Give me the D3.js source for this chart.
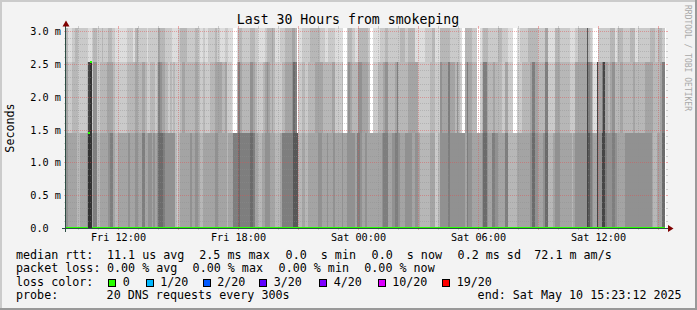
<!DOCTYPE html>
<html>
<head>
<meta charset="utf-8">
<script src="https://cdn.jsdelivr.net/npm/d3@7"></script>
<style>
  body { margin: 0; background: #f3f3f3; }
  svg text { font-family: 'DejaVu Sans Mono', monospace; fill: #000; }
</style>
</head>
<body>
<script>
// Smokeping data: 20 DNS pings every 300s, 360 steps.
const pingCount = 20;
const stepSeconds = 300;
const firstStep = Date.UTC(2025, 4, 9, 9, 20, 0);
const graphStart = new Date(Date.UTC(2025, 4, 9, 9, 23, 12));
const graphEnd = new Date(Date.UTC(2025, 4, 10, 15, 23, 12));

// rtt levels the pings fall on (seconds), lowest first.
const rttLevels = [1.45e-3, 2.53e-3, 3.05e-3];

// Number of pings at or above rttLevels[2] per step.
const topCount = [
  3,3,1,1,2,2, 3,3,2,2,2,2, 2,2,1,1,2,3, 3,2,2,2,3,2, 2,2,3,3,2,2,
  1,1,1,1,1,1, 1,2,2,2,2,1, 3,4,2,2,2,2, 2,1,2,2,2,2, 2,2,4,3,3,3,
  2,2,2,2,1,1, 1,1,2,3,3,3, 3,2,2,2,2,2, 3,3,2,1,1,2, 1,1,2,2,2,2,
  3,2,2,1,1,1, 2,2,1,1,1,0, 0,1,3,3,2,2, 2,2,2,3,3,3, 2,2,1,1,1,1,
  2,3,3,3,4,3, 1,1,1,2,2,2, 3,3,3,3,4,4, 3,0,1,1,2,2, 2,2,2,3,3,3,
  3,3,3,2,2,2, 1,1,2,2,2,2, 1,1,1,1,1,0, 0,2,3,3,2,2, 1,1,3,3,3,3,
  3,3,2,0,0,1, 1,1,1,2,2,2, 3,3,2,2,2,2, 2,2,2,3,3,3, 2,2,3,3,3,3,
  1,1,1,1,1,1, 2,2,2,2,3,3, 1,1,1,3,3,3, 3,3,3,2,2,2, 2,2,2,1,0,0,
  3,3,3,3,2,2, 2,0,0,1,2,3, 3,3,2,2,2,2, 2,2,3,3,2,2, 2,2,1,1,1,0,
  0,1,1,2,2,2, 2,2,3,3,3,3, 3,3,2,2,2,2, 4,4,1,1,1,1, 3,3,3,2,2,2,
  2,2,2,1,1,1, 2,2,3,3,3,3, 3,8,3,2,1,0, 0,0,2,2,2,2, 2,2,2,3,3,3,
  1,2,3,3,3,2, 2,2,2,3,3,3, 1,1,2,2,2,2, 2,2,2,3,3,3, 2,2,3,3,2,2
];

// Number of pings at or above rttLevels[1] per step.
const midCount = [
  4,4,2,2,3,3, 3,3,2,2,2,2, 2,3,9,10,2,5, 5,2,2,3,3,3, 3,4,4,4,4,3,
  2,2,2,2,2,2, 2,3,3,3,3,3, 4,4,3,3,4,4, 3,2,2,3,3,3, 2,3,6,5,4,4,
  3,3,2,3,2,3, 2,2,2,3,4,4, 3,3,3,3,3,3, 4,4,3,2,2,3, 2,2,2,3,3,3,
  4,4,4,4,3,3, 4,2,2,2,1,0, 0,3,6,4,3,3, 3,3,3,5,5,4, 3,2,2,2,2,3,
  4,5,4,3,4,3, 2,2,2,2,3,3, 4,4,4,4,5,7, 6,0,2,2,3,3, 2,2,3,3,3,3,
  4,4,4,4,4,3, 3,3,3,3,4,4, 2,2,2,2,3,0, 0,3,5,4,3,3, 3,3,5,5,4,4,
  4,4,3,0,0,2, 2,2,3,3,3,4, 5,5,3,3,3,3, 4,6,3,3,3,3, 3,3,4,4,4,4,
  4,4,2,2,2,2, 2,2,2,3,3,3, 2,2,2,5,4,4, 4,4,6,4,4,4, 3,5,3,2,0,0,
  4,6,4,4,3,3, 3,0,0,2,3,6, 6,4,3,3,3,4, 3,3,3,3,2,2, 4,4,2,2,2,0,
  0,2,2,2,3,3, 3,3,3,4,6,6, 4,4,3,3,3,3, 6,6,2,2,2,2, 4,4,4,3,3,3,
  3,3,3,2,2,2, 4,4,4,4,4,4, 4,9,6,5,3,1, 1,9,4,4,6,9, 4,4,3,4,5,5,
  3,3,3,4,4,3, 3,3,3,3,3,4, 3,3,3,3,3,3, 4,4,4,4,4,3, 3,3,3,4,6,6
];

// Number of pings at or above rttLevels[0] per step (the rest answered in 0 s).
const lowCount = [
  5,5,4,4,4,4, 4,3,3,4,4,4, 4,5,10,10,4,6, 6,3,3,4,4,4, 4,4,5,6,6,4,
  3,3,4,4,4,4, 4,4,5,4,4,4, 5,5,4,4,6,6, 4,4,5,5,4,5, 4,5,7,7,7,6,
  5,5,5,5,5,5, 3,2,3,4,4,4, 4,4,4,5,4,4, 5,5,4,3,3,4, 4,4,4,4,4,4,
  5,5,4,4,4,4, 4,3,4,4,4,6, 6,6,7,6,6,6, 6,6,6,7,7,6, 4,4,3,3,4,4,
  5,5,5,4,4,4, 3,3,3,4,6,6, 6,6,6,6,6,8, 8,8,3,3,4,4, 3,3,4,4,4,4,
  4,4,5,5,4,4, 4,5,4,4,4,5, 4,4,4,4,5,4, 4,5,5,5,5,5, 4,6,6,5,4,4,
  5,4,4,4,4,4, 4,4,4,4,5,6, 6,6,4,4,5,5, 6,6,5,4,4,4, 5,5,5,5,4,4,
  5,5,4,3,3,3, 3,3,3,4,4,4, 2,2,3,5,5,5, 5,5,6,5,5,5, 5,5,5,5,5,5,
  4,6,5,5,4,4, 4,4,4,4,5,7, 7,5,4,4,6,6, 5,5,4,4,4,4, 6,6,3,3,3,3,
  3,4,4,4,4,4, 4,4,4,5,7,7, 5,5,4,4,4,5, 7,7,3,3,3,4, 5,5,5,4,4,4,
  4,4,4,4,3,4, 5,5,5,5,5,5, 5,9,8,6,5,4, 4,9,5,5,9,9, 6,5,5,5,6,6,
  5,4,4,4,4,4, 5,5,5,5,5,5, 5,5,5,5,5,5, 5,5,5,5,4,3, 3,4,4,4,7,7
];

// Axis ticks (seconds).
const yMajorTicks = [0, 0.5e-3, 1.0e-3, 1.5e-3, 2.0e-3, 2.5e-3, 3.0e-3];
const yMinorStep = 0.1e-3;

// Legend.
const lossLabels = ['0', '1/20', '2/20', '3/20', '4/20', '10/20', '19/20'];
const lossColors = ['#26ff00', '#00b8ff', '#0059ff', '#5e00ff', '#7e00ff', '#dd00ff', '#ff0000'];
const lossBoxX = [108.5, 146, 203, 259.5, 319.5, 378, 442.5];
const rttLegend = ['median rtt:', '11.1 us avg', '2.5 ms max', '0.0  s min', '0.0  s now', '0.2 ms sd', '72.1 m am/s'];
const rttLegendX = [16, 107, 199.3, 285.6, 371.6, 457.6, 534.3];
const lossLegend = ['packet loss:', '0.00 % avg', '0.00 % max', '0.00 % min', '0.00 % now'];
const lossLegendX = [16, 107, 192.6, 278.6, 364.3];
const probeLegend = ['probe:', '20 DNS requests every 300s', 'end: Sat May 10 15:23:12 2025'];
const probeLegendX = [16, 106.6, 477.6];

// Canvas constants.
const W = 697, H = 310;
const X0 = 66, X1 = 666, Y0 = 228, Ytop = 28;

const svg = d3.select('body')
  .append('svg')
  .attr('width', W)
  .attr('height', H);

// Background and 3d frame.
svg.append('rect').attr('width', W).attr('height', H).attr('fill', '#f3f3f3');
svg.append('rect').attr('width', W).attr('height', 2).attr('fill', '#cbcbcb');
svg.append('rect').attr('width', 2).attr('height', H).attr('fill', '#cbcbcb');
svg.append('rect').attr('y', H - 2).attr('width', W).attr('height', 2).attr('fill', '#999');
svg.append('rect').attr('x', W - 2).attr('width', 2).attr('height', H).attr('fill', '#999');

// Plot canvas.
svg.append('rect')
  .attr('x', X0).attr('y', Ytop)
  .attr('width', X1 - X0).attr('height', Y0 - Ytop)
  .attr('fill', '#fff');

svg.append('clipPath').attr('id', 'plot')
  .append('rect')
  .attr('x', X0).attr('y', Ytop)
  .attr('width', X1 - X0).attr('height', Y0 - Ytop);

// Scales.
const x = d3.scaleUtc().domain([graphStart, graphEnd]).range([X0, X1]);
const y = d3.scaleLinear().domain([0, 3.0e-3]).range([Y0, 31]);

// Build sorted pings per step.
const steps = topCount.map((t, i) => {
  const pings = [];
  const zeros = pingCount - lowCount[i];
  for (let k = 0; k < zeros; k++) pings.push(0);
  for (let k = 0; k < lowCount[i] - midCount[i]; k++) pings.push(rttLevels[0]);
  for (let k = 0; k < midCount[i] - t; k++) pings.push(rttLevels[1]);
  for (let k = 0; k < t; k++) pings.push(rttLevels[2]);
  return { time: new Date(firstStep + i * stepSeconds * 1000), pings, median: pings[pingCount / 2] };
});
// closing point for the step curve
const last = steps[steps.length - 1];
steps.push({ time: new Date(last.time.getTime() + stepSeconds * 1000), pings: last.pings, median: last.median });

const plot = svg.append('g').attr('clip-path', 'url(#plot)');

// Smoke: layer i spans ping i to ping n+1-i, inner layers darker.
const half = pingCount / 2;
for (let ibot = 1; ibot <= half; ibot++) {
  const itop = pingCount + 1 - ibot;
  const c = Math.floor(190 / half * (half - ibot)) + 50;
  const area = d3.area()
    .x(d => x(d.time))
    .y0(d => y(d.pings[ibot - 1]))
    .y1(d => y(d.pings[itop - 1]))
    .curve(d3.curveStepAfter);
  plot.append('path')
    .datum(steps)
    .attr('d', area)
    .attr('fill', d3.rgb(c, c, c))
    .attr('shape-rendering', 'crispEdges');
}

// Median, coloured by loss (all 0 here).
const medianArea = d3.area()
  .x(d => x(d.time))
  .y0(d => y(d.median) + 1)
  .y1(d => y(d.median) - 1)
  .curve(d3.curveStepAfter);
plot.append('path')
  .datum(steps)
  .attr('d', medianArea)
  .attr('fill', lossColors[0])
  .attr('shape-rendering', 'crispEdges');

// Grid.
const gridCol = 'rgba(143,143,143,0.38)';
const mgridCol = 'rgba(224,80,80,0.45)';
const grid = svg.append('g').attr('shape-rendering', 'crispEdges');

// horizontal
const yMinor = d3.range(0, 3.0e-3 + 1e-9, yMinorStep).filter(v => v > 0);
yMinor.forEach(v => {
  const isMajor = yMajorTicks.some(m => Math.abs(m - v) < 1e-9);
  const yy = Math.round(y(v)) + 0.5;
  const col = isMajor ? mgridCol : gridCol;
  grid.append('line').attr('x1', X0).attr('x2', X1).attr('y1', yy).attr('y2', yy)
    .attr('stroke', col).attr('stroke-dasharray', '1,1');
  grid.append('line').attr('x1', X0 - 2).attr('x2', X0).attr('y1', yy).attr('y2', yy).attr('stroke', col);
  grid.append('line').attr('x1', X1).attr('x2', X1 + 2).attr('y1', yy).attr('y2', yy).attr('stroke', col);
});

// vertical
const hours = d3.utcHour.range(graphStart, graphEnd);
hours.forEach(h => {
  const isMajor = h.getUTCHours() % 3 === 0;
  const xx = Math.round(x(h)) + 0.5;
  const col = isMajor ? mgridCol : gridCol;
  grid.append('line').attr('x1', xx).attr('x2', xx).attr('y1', Ytop).attr('y2', Y0)
    .attr('stroke', col).attr('stroke-dasharray', '1,1');
  grid.append('line').attr('x1', xx).attr('x2', xx).attr('y1', Ytop - 2).attr('y2', Ytop).attr('stroke', col);
  grid.append('line').attr('x1', xx).attr('x2', xx).attr('y1', Y0).attr('y2', Y0 + 2).attr('stroke', col);
});

// Axes and arrows.
const axisCol = '#2c4d43';
svg.append('line').attr('x1', 62).attr('x2', 670).attr('y1', Y0 + 0.5).attr('y2', Y0 + 0.5)
  .attr('stroke', axisCol).attr('shape-rendering', 'crispEdges');
svg.append('line').attr('x1', X0 - 0.5).attr('x2', X0 - 0.5).attr('y1', Y0 + 4).attr('y2', 24)
  .attr('stroke', axisCol).attr('shape-rendering', 'crispEdges');
svg.append('path').attr('d', 'M668,225 L673.5,228.5 L668,232 Z').attr('fill', '#7f0000');
svg.append('path').attr('d', 'M62.5,26.5 L66,20.5 L69.5,26.5 Z').attr('fill', '#7f0000');

// Axis labels.
yMajorTicks.forEach(v => {
  svg.append('text')
    .attr('x', 30.3)
    .attr('y', Math.round(y(v)) + 4)
    .attr('font-size', '10.2px')
    .attr('xml:space', 'preserve')
    .text(v === 0 ? '0.0' : (v * 1000).toFixed(1) + ' m');
});
const fmt = d3.utcFormat('%a %H:%M');
hours.filter(h => h.getUTCHours() % 6 === 0).forEach(h => {
  svg.append('text')
    .attr('x', Math.round(x(h)) + 0.5)
    .attr('y', 241)
    .attr('font-size', '10.2px')
    .attr('text-anchor', 'middle')
    .text(fmt(h));
});

// Title, unit and watermark.
svg.append('text')
  .attr('x', 348).attr('y', 24)
  .attr('font-size', '13.2px')
  .attr('text-anchor', 'middle')
  .text('Last 30 Hours from smokeping');
svg.append('text')
  .attr('transform', 'translate(13.5,128) rotate(-90)')
  .attr('font-size', '11.7px')
  .attr('text-anchor', 'middle')
  .text('Seconds');
svg.append('text')
  .attr('transform', 'translate(685,5) rotate(90)')
  .attr('font-size', '8px')
  .style('fill', '#a8a8a8')
  .text('RRDTOOL / TOBI OETIKER');

// Legend rows.
function legendRow(items, xs, yy) {
  items.forEach((t, i) => {
    svg.append('text')
      .attr('x', xs[i]).attr('y', yy)
      .attr('font-size', '11.7px')
      .attr('xml:space', 'preserve')
      .style('white-space', 'pre')
      .text(t);
  });
}
legendRow(rttLegend, rttLegendX, 258.5);
legendRow(lossLegend, lossLegendX, 272);
legendRow(['loss color:'], [16], 285.6);
lossLabels.forEach((l, i) => {
  svg.append('rect')
    .attr('x', lossBoxX[i]).attr('y', 279.5)
    .attr('width', 7).attr('height', 7)
    .attr('fill', lossColors[i])
    .attr('stroke', '#000')
    .attr('shape-rendering', 'crispEdges');
  svg.append('text')
    .attr('x', lossBoxX[i] + 14.2).attr('y', 285.6)
    .attr('font-size', '11.7px')
    .text(l);
});
legendRow(probeLegend, probeLegendX, 299.2);
</script>
</body>
</html>
